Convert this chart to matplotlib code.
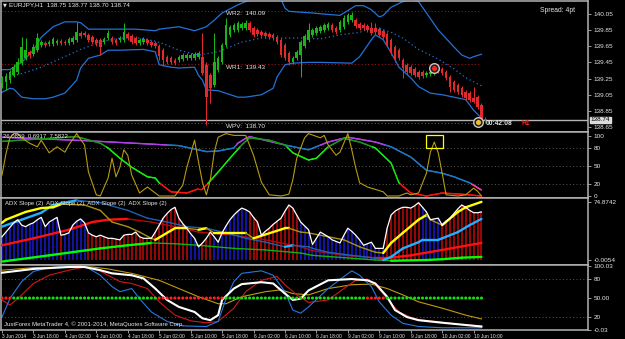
import matplotlib
matplotlib.use("Agg")
import matplotlib.pyplot as plt
import numpy as np
from matplotlib.collections import LineCollection
from matplotlib.patches import Rectangle
import matplotlib.transforms as mtrans

# ---------------- DATA ----------------
symbol = "EURJPY,H1"
cur_ohlc = [138.75, 138.77, 138.70, 138.74]
spread_pt = 4

opens = [139.19,139.21,139.23,139.29,139.33,139.44,139.50,139.58,139.55,139.60,
 139.66,139.69,139.68,139.68,139.69,139.71,139.70,139.69,139.70,139.73,
 139.81,139.81,139.79,139.76,139.73,139.73,139.70,139.75,139.75,139.73,
 139.73,139.73,139.80,139.78,139.75,139.69,139.70,139.73,139.70,139.69,
 139.65,139.60,139.52,139.50,139.48,139.48,139.49,139.50,139.50,139.50,
 139.52,139.52,139.42,139.29,139.17,139.36,139.45,139.66,139.79,139.85,
 139.85,139.87,139.87,139.94,139.87,139.85,139.82,139.81,139.80,139.79,
 139.76,139.73,139.66,139.57,139.45,139.50,139.54,139.65,139.73,139.79,
 139.81,139.84,139.85,139.87,139.91,139.87,139.85,139.89,139.95,139.97,
 139.97,139.92,139.91,139.90,139.87,139.87,139.86,139.84,139.80,139.73,
 139.64,139.60,139.48,139.42,139.39,139.37,139.33,139.33,139.29,139.31,
 139.32,139.39,139.37,139.33,139.27,139.21,139.17,139.13,139.08,139.07,
 139.01,139.02,138.92,138.75]
closes = [139.26,139.28,139.33,139.39,139.45,139.64,139.60,139.54,139.64,139.75,
 139.70,139.66,139.70,139.74,139.71,139.69,139.69,139.74,139.75,139.82,
 139.78,139.79,139.73,139.70,139.69,139.64,139.74,139.81,139.70,139.69,
 139.75,139.82,139.75,139.70,139.69,139.73,139.74,139.69,139.66,139.65,
 139.53,139.48,139.45,139.45,139.44,139.52,139.54,139.54,139.54,139.55,
 139.57,139.32,139.02,139.13,139.45,139.50,139.66,139.91,139.89,139.91,
 139.94,139.92,139.94,139.85,139.79,139.80,139.79,139.78,139.76,139.75,
 139.70,139.54,139.50,139.45,139.50,139.58,139.70,139.78,139.85,139.85,
 139.87,139.89,139.91,139.92,139.85,139.82,139.95,140.00,140.03,140.03,
 139.90,139.87,139.87,139.85,139.81,139.82,139.79,139.76,139.66,139.57,
 139.48,139.50,139.38,139.33,139.32,139.29,139.27,139.28,139.32,139.33,
 139.38,139.34,139.32,139.26,139.15,139.11,139.08,139.05,139.01,138.99,
 138.96,138.90,138.75,138.74]
highs = [139.28,139.32,139.36,139.43,139.50,139.76,139.75,139.60,139.68,139.81,
 139.73,139.71,139.73,139.76,139.74,139.74,139.73,139.76,139.78,139.95,
 139.84,139.84,139.81,139.79,139.75,139.75,139.76,139.85,139.78,139.75,
 139.78,139.94,139.82,139.80,139.78,139.75,139.76,139.75,139.73,139.71,
 139.68,139.63,139.54,139.53,139.50,139.54,139.57,139.57,139.57,139.58,
 139.59,139.81,139.45,139.32,139.81,139.53,139.69,140.00,139.91,139.94,
 139.96,139.95,139.97,139.96,139.90,139.87,139.85,139.84,139.82,139.81,
 139.79,139.75,139.69,139.59,139.53,139.60,139.73,139.80,139.94,139.87,
 139.90,139.91,139.94,139.95,139.94,139.90,139.97,140.03,140.06,140.07,
 140.00,139.95,139.94,139.92,139.95,139.94,139.89,139.86,139.82,139.75,
 139.66,139.63,139.50,139.44,139.42,139.39,139.36,139.36,139.34,139.36,
 139.41,139.42,139.39,139.36,139.29,139.23,139.19,139.16,139.11,139.10,
 139.15,139.05,138.95,138.77]
lows = [139.13,139.11,139.19,139.27,139.31,139.42,139.48,139.50,139.53,139.58,
 139.64,139.64,139.65,139.65,139.66,139.66,139.66,139.66,139.68,139.70,
 139.75,139.76,139.70,139.68,139.65,139.54,139.68,139.73,139.68,139.66,
 139.70,139.70,139.73,139.68,139.66,139.66,139.68,139.66,139.64,139.63,
 139.48,139.41,139.43,139.43,139.42,139.45,139.47,139.48,139.48,139.48,
 139.49,139.29,138.68,138.95,139.15,139.33,139.43,139.64,139.76,139.82,
 139.82,139.85,139.85,139.82,139.76,139.78,139.76,139.75,139.74,139.73,
 139.68,139.52,139.48,139.42,139.43,139.48,139.27,139.63,139.70,139.76,
 139.79,139.81,139.82,139.85,139.82,139.80,139.82,139.86,139.92,139.95,
 139.87,139.85,139.85,139.82,139.79,139.80,139.76,139.74,139.64,139.54,
 139.45,139.48,139.26,139.31,139.29,139.27,139.24,139.26,139.27,139.28,
 139.29,139.32,139.29,139.23,139.08,139.08,139.06,139.02,138.99,138.96,
 138.95,138.87,138.73,138.70]

bb_up_x = [0,2,5,8,10,13,16,19,20,22,27,34,39,40,45,49,52,54,56,60,62,65,68,71,72,73,76,79,81,86,90,92,94,96,97,99,102,104,106,108,111,115,117,119,120,122]
bb_up = [139.36,139.36,139.45,139.60,139.76,139.89,139.95,139.95,139.94,139.86,139.86,139.86,139.84,139.86,139.89,139.84,139.89,139.97,140.06,140.16,140.20,140.24,140.28,140.23,140.12,140.08,140.07,140.06,140.05,140.03,140.15,140.15,140.10,140.01,140.03,140.13,140.20,140.22,140.20,140.06,139.85,139.64,139.54,139.50,139.52,139.55]
bb_lo_x = [0,2,3,5,8,11,13,16,19,20,22,25,27,30,36,39,40,43,45,49,50,51,52,55,60,62,66,69,70,72,74,78,81,89,91,94,95,97,99,101,104,106,109,112,115,118,120,122]
bb_lo = [139.08,139.13,139.12,139.02,139.00,139.00,139.02,139.07,139.23,139.38,139.50,139.54,139.60,139.60,139.61,139.58,139.42,139.39,139.38,139.39,139.29,139.23,139.11,139.10,139.02,139.02,139.05,139.13,139.27,139.42,139.44,139.45,139.45,139.44,139.52,139.73,139.79,139.73,139.57,139.39,139.26,139.15,139.07,139.05,139.02,138.99,138.86,138.76]
bb_mid_x = [0,2,5,10,15,20,25,30,35,39,41,45,50,55,61,66,76,81,86,91,94,96,99,102,106,111,115,118,122]
bb_mid = [139.23,139.28,139.31,139.39,139.50,139.61,139.70,139.75,139.75,139.71,139.68,139.60,139.54,139.58,139.70,139.75,139.75,139.74,139.79,139.82,139.87,139.87,139.82,139.75,139.61,139.49,139.37,139.26,139.16]

wr2, wr1, wpv = 140.09, 139.43, 138.70
bid = 138.74
price_ticks = [140.05, 139.85, 139.65, 139.45, 139.25, 139.05, 138.85, 138.65]
signal_x = [110, 121]
signal_y = [139.38, 138.71]

# pane 2
osc_label = "26.0859  0.6917  7.5822"
slow_x = [0,22,45,52,55,59,60,62,63,72,78,83,88,95,99,104,108,112,115,119,122]
slow = [98,92,84,74,75,80,88,96,99,85,77,90,98,90,82,65,43,38,32,22,10]
mid_x = [0,19,25,27,30,33,37,39,40,43,47,50,51,52,55,58,61,63,68,72,74,78,80,83,87,91,95,99,101,104,108,112,117,122]
mid = [91,99,88,80,63,48,32,30,22,7,5,12,12,18,40,63,85,97,93,85,72,60,63,82,96,90,80,55,22,5,0,5,3,0]
fast_x = [0,1,2,3,4,5,7,9,10,12,14,16,17,19,21,22,24,25,27,28,29,30,31,32,33,35,37,38,40,44,
          46,47,49,50,51,52,53,54,55,57,59,62,64,66,68,71,73,74,75,77,78,81,82,83,85,86,88,89,90,91,
          93,94,97,98,101,103,104,106,108,109,110,111,112,113,116,118,120,121,122]
fast = [35,70,97,104,104,97,88,82,93,72,82,73,85,104,85,40,2,0,30,63,32,48,77,68,35,5,15,10,0,0,
        18,47,93,57,23,2,27,73,98,104,101,101,68,23,2,0,3,27,63,97,104,97,101,85,68,73,104,77,47,22,
        15,13,7,0,0,5,2,5,38,73,90,72,38,2,0,2,13,8,0]
osc_levels = [80, 50, 20]
osc_ticks = [100, 80, 50, 20, 0]

# pane 3
adx_label = "ADX Slope (2)  ADX Slope (2)  ADX Slope (2)  ADX Slope (2)"
hist = [30,36,42,48,52,45,43,46,48,52,
 55,43,49,52,55,32,33,35,45,50,
 53,48,35,32,30,32,30,28,28,27,
 26,32,33,33,36,30,28,28,28,36,
 45,54,60,65,68,54,47,41,34,28,
 17,22,28,36,30,23,35,44,52,58,
 63,67,65,62,55,49,32,37,41,46,
 50,54,63,71,67,58,49,44,39,20,
 28,36,33,30,26,24,22,32,41,37,
 32,26,19,21,23,15,15,15,41,58,
 63,66,68,68,67,70,74,68,62,52,
 53,54,45,50,54,60,66,71,68,64,
 61,61,62]
hist_runs = [("b",15),("r",1),("b",6),("r",26),("b",3),("r",3),("b",9),("r",13),("b",22),("r",9),("b",5),("r",11)]
l1_x = [0,1,4,6,10,13,15,21,25,28,32,35,38,39,44,47,50,52,54,60,62,64,72,73,76,78,87,91,95,97,99,102,106,108,109,112,116,118,122]
l1 = [48,52,58,62,67,68,72,71,64,49,43,36,28,26,41,41,39,41,35,35,35,28,41,41,36,35,26,17,10,9,22,35,52,58,52,45,62,68,75]
l2_x = [0,5,10,13,17,19,25,32,37,42,47,52,57,62,67,72,74,78,79,83,89,94,97,99,102,106,107,111,112,116,119,122]
l2 = [43,52,61,71,75,77,74,64,54,49,43,41,35,28,23,17,19,17,15,10,6,3,0,4,15,23,26,26,28,36,45,53]
l3_x = [0,8,17,23,27,32,38,44,50,59,67,76,79,87,95,99,104,112,122]
l3 = [19,28,39,49,52,53,49,43,36,32,26,17,12,6,3,3,6,13,22]
l4_x = [0,12,25,32,38,44,50,59,67,76,79,87,95,99,108,112,117,122]
l4 = [-2,6,15,19,22,21,19,15,13,9,6,3,0,-1,0,1,3,4]
adx_max, adx_min = 74.8742, -0.0054

# pane 4
w4_x = [0,8,17,21,25,28,33,36,39,42,45,49,51,53,55,56,59,61,66,69,72,74,76,78,83,89,93,95,98,100,103,106,112,117,122]
w4 = [90,96,99,99,94,89,86,81,65,47,36,28,18,15,23,47,65,72,75,73,57,47,49,62,78,80,78,73,52,31,20,15,11,8,5]
b4_x = [0,2,5,8,12,20,22,25,28,30,33,35,38,42,46,52,55,57,59,61,66,69,72,74,76,78,83,87,89,91,94,96,99,102,106,112,122]
b4 = [20,49,76,92,98,101,97,86,68,60,65,49,28,13,6,5,13,49,76,89,93,86,60,31,26,36,65,84,93,86,68,44,23,10,5,3,3]
r4_x = [0,2,4,8,12,17,21,24,27,30,33,37,40,44,48,52,55,59,62,66,70,72,75,78,83,87,90,93,95,98,101,105,110,117,122]
r4 = [47,39,49,73,86,94,99,96,86,76,73,65,44,23,14,11,13,34,60,78,84,71,55,43,47,65,78,80,71,49,28,17,13,8,6]
g4_x = [0,8,17,23,27,33,40,45,50,55,57,61,67,71,74,78,83,89,94,98,102,106,112,118,122]
g4 = [94,98,99,99,96,89,78,65,52,41,41,52,60,63,57,55,65,71,72,65,55,44,34,23,17]
dot_level = 50
dot_runs = [("r",3),("g",37),("r",17),("g",36),("r",5),("g",25)]
p4_levels = [80, 20]
p4_ticks = [100.03, 80, 50, 20, -0.03]
p4_ticklabels = ["100.03", "80", "50.00", "20", "-0.03"]

time_bars = [0,8,16,24,32,40,48,56,64,72,80,88,96,104,112,120]
time_labels = ["3 Jun 2014","3 Jun 18:00","4 Jun 02:00","4 Jun 10:00","4 Jun 18:00","5 Jun 02:00",
               "5 Jun 10:00","5 Jun 18:00","6 Jun 02:00","6 Jun 10:00","6 Jun 18:00","9 Jun 02:00",
               "9 Jun 10:00","9 Jun 18:00","10 Jun 02:00","10 Jun 10:00"]
countdown = "00:42:08"
credit = "JustForex MetaTrader 4, \u00a9 2001-2014, MetaQuotes Software Corp."

# ---------------- STYLE / LAYOUT ----------------
plt.rcParams['font.family'] = ['Liberation Sans', 'DejaVu Sans']
W, H = 625, 339
FS = 4.6
TFS = 3.5
TXT = '#e6e6e6'
BULL, BEAR = '#18b418', '#e22a2e'
BB = '#2272d6'
BAR_PX = 3.93
XL, XR = (1 - 2) / BAR_PX, (588 - 2) / BAR_PX

fig = plt.figure(figsize=(W / 100, H / 100), dpi=100, facecolor='black')

def new_ax(top, bottom):
    ax = fig.add_axes([1 / W, 1 - bottom / H, 587 / W, (bottom - top) / H])
    ax.set_facecolor('black')
    for s in ax.spines.values():
        s.set_color('#b4b4b4')
        s.set_linewidth(1.1)
    ax.set_xlim(XL, XR)
    ax.tick_params(axis='x', bottom=False, labelbottom=False)
    ax.yaxis.tick_right()
    ax.tick_params(axis='y', colors='#b4b4b4', labelcolor=TXT, labelsize=FS,
                   length=2.5, width=0.6, pad=1.5)
    return ax

def ftext(x, y, s, **kw):
    kw.setdefault('color', TXT)
    kw.setdefault('fontsize', FS)
    kw.setdefault('va', 'center')
    fig.text(x / W, 1 - y / H, s, **kw)

def thresh_line(ax, xs, ys, fn, lw, z=3):
    fx = np.linspace(xs[0], xs[-1], (xs[-1] - xs[0]) * 6 + 1)
    fy = np.interp(fx, xs, ys)
    pts = np.column_stack([fx, fy]).reshape(-1, 1, 2)
    segs = np.concatenate([pts[:-1], pts[1:]], axis=1)
    m = (fy[:-1] + fy[1:]) / 2
    ax.add_collection(LineCollection(segs, colors=[fn(v) for v in m], linewidths=lw,
                                     capstyle='round', zorder=z))

def slope_line(ax, xs, ys, upc, dnc, uplw, dnlw, z=3):
    pts = np.column_stack([xs, ys]).reshape(-1, 1, 2)
    segs = np.concatenate([pts[:-1], pts[1:]], axis=1)
    rising = np.diff(ys) >= 0
    ax.add_collection(LineCollection(segs, colors=[upc if r else dnc for r in rising],
                                     linewidths=[uplw if r else dnlw for r in rising],
                                     capstyle='round', zorder=z))

# ---------------- MAIN PANE ----------------
ax = new_ax(1, 132)
ax.set_ylim(140.22 - 0.01235 * 132, 140.22 - 0.01235 * 1)
o, c, h, l = map(np.array, (opens, closes, highs, lows))
idx = np.arange(len(o))
cols = np.where(c >= o, BULL, BEAR)
ax.vlines(idx, l, h, colors=cols, lw=0.75, zorder=3)
ax.bar(idx, np.maximum(np.abs(c - o), 0.008), bottom=np.minimum(o, c), width=0.66,
       color=cols, lw=0, zorder=4)
ax.plot(bb_up_x, bb_up, color=BB, lw=0.9, zorder=2)
ax.plot(bb_lo_x, bb_lo, color=BB, lw=0.9, zorder=2)
ax.plot(bb_mid_x, bb_mid, color=BB, lw=0.9, ls=(0, (1, 2.2)), zorder=2)
last = idx[-2]
for v, name in ((wr2, 'WR2'), (wr1, 'WR1')):
    ax.hlines(v, XL, last, colors='#a01414', lw=0.8, linestyles=(0, (1, 2)), zorder=1)
    ax.text(57, v - 0.012, f"{name}:  {v:.2f}", color=TXT, fontsize=FS, va='top', ha='left', zorder=6)
ax.hlines(wpv, XL, last, colors='#2a5cd0', lw=0.8, linestyles=(0, (1, 2)), zorder=1)
ax.text(57, wpv - 0.012, f"WPV:  {wpv:.2f}", color=TXT, fontsize=FS, va='top', ha='left', zorder=6)
ax.axhline(bid, color='#b4b4b4', lw=1.0, zorder=1)
ax.set_yticks(price_ticks)
ax.set_yticklabels([f"{p:.2f}" for p in price_ticks])
tr = mtrans.blended_transform_factory(ax.transAxes, ax.transData)
ax.text(1.004, bid, f"{bid:.2f}", transform=tr, ha='left', va='center', fontsize=FS,
        color='black', bbox=dict(fc='#dcdcdc', ec='#dcdcdc', pad=0.5), zorder=10, clip_on=False)
ax.scatter(signal_x, signal_y, s=48, facecolors='#202020', edgecolors='#c8c8c8', lw=1.0, zorder=7)
ax.scatter(signal_x[:1], signal_y[:1], s=7, c='#ff2020', zorder=8)
ax.scatter(signal_x[1:], signal_y[1:], s=7, c='#f0c020', zorder=8)

ftext(3, 5, "\u25bc", fontsize=3.6, family=['DejaVu Sans'])
ftext(9, 5, f"{symbol}  " + " ".join(f"{v:.2f}" for v in cur_ohlc))
ftext(575, 11, f"Spread: {spread_pt}pt", ha='right', fontsize=FS + 0.3)
ftext(486, 123.5, countdown, fontweight='bold', fontsize=FS + 0.2)
ftext(521, 123.5, "H1", color='#ff2020', fontweight='bold', fontsize=FS + 0.2)

# ---------------- PANE 2 ----------------
a2 = new_ax(132, 198)
a2.set_ylim((196 - 198) / 0.6, (196 - 132) / 0.6)
for lv in osc_levels:
    a2.axhline(lv, color='#5a5a5a', lw=0.7, ls=(0, (1, 2.5)), zorder=1)
thresh_line(a2, slow_x, slow,
            lambda v: '#b040e8' if v >= 85 else ('#ff40b0' if v < 20 else '#1e78c8'), 1.0)
thresh_line(a2, mid_x, mid,
            lambda v: '#1c961c' if v >= 82 else ('#ff1010' if v < 20 else '#10f010'), 1.0)
a2.plot(fast_x, fast, color='#b89a10', lw=0.8, zorder=4)
pk = int(np.argmax(np.where((np.array(fast_x) > 100), fast, -1)))
a2.add_patch(Rectangle((fast_x[pk] - 2.2, fast[pk] - 10), 4.3, 21.5, fill=False,
                       ec='#ffff00', lw=0.9, zorder=5))
a2.set_yticks(osc_ticks)
a2.set_yticklabels([str(t) for t in osc_ticks])
ftext(3, 137, osc_label, fontsize=FS - 0.3)

# ---------------- PANE 3 ----------------
a3 = new_ax(198, 265)
a3.set_ylim((260 - 265) / 0.775, (260 - 198) / 0.775)
hcols = []
for cc, n in hist_runs:
    hcols += [('#1a1ad2' if cc == 'b' else '#c00a0a')] * n
hx = np.arange(len(hist))
a3.vlines(hx, 0, hist, colors=hcols, lw=1.1, zorder=1)
slope_line(a3, l4_x, l4, '#00ff00', '#10b010', 1.7, 1.0)
slope_line(a3, l3_x, l3, '#ff1010', '#b40808', 1.7, 1.0)
slope_line(a3, l2_x, l2, '#20b0ff', '#1e5fb4', 1.7, 1.0)
slope_line(a3, l1_x, l1, '#ffff00', '#a89214', 1.7, 1.0)
a3.plot(hx, hist, color='white', lw=0.9, zorder=5)
a3.set_yticks([adx_max, adx_min])
a3.set_yticklabels([f"{adx_max:.4f}", f"{adx_min:.4f}"])
ftext(5, 203, adx_label, fontsize=FS - 0.3)

# ---------------- PANE 4 ----------------
a4 = new_ax(265, 330)
a4.set_ylim(-0.5, 102.2)
for lv in p4_levels:
    a4.axhline(lv, color='#5a5a5a', lw=0.7, ls=(0, (1, 2.5)), zorder=1)
a4.plot(g4_x, g4, color='#c09a10', lw=0.8, zorder=2)
a4.plot(r4_x, r4, color='#d01818', lw=0.8, zorder=2)
a4.plot(b4_x, b4, color='#2878e0', lw=0.8, zorder=2)
a4.plot(w4_x, w4, color='white', lw=1.5, zorder=3)
dcols = []
for cc, n in dot_runs:
    dcols += [('#ff2020' if cc == 'r' else '#10e010')] * n
a4.scatter(np.arange(len(dcols)), [dot_level] * len(dcols), s=5, c=dcols, marker='o',
           lw=0, zorder=4)
a4.set_yticks(p4_ticks)
a4.set_yticklabels(p4_ticklabels)
a4.set_xticks(time_bars)
a4.set_xticklabels(time_labels, ha='left')
a4.tick_params(axis='x', bottom=True, labelbottom=True, colors='#b4b4b4', labelcolor=TXT,
               labelsize=TFS, length=2, width=0.6, pad=0.8)
ftext(4, 324, credit, fontsize=FS - 0.3)

fig.savefig("out.png", dpi=100, facecolor='black')
